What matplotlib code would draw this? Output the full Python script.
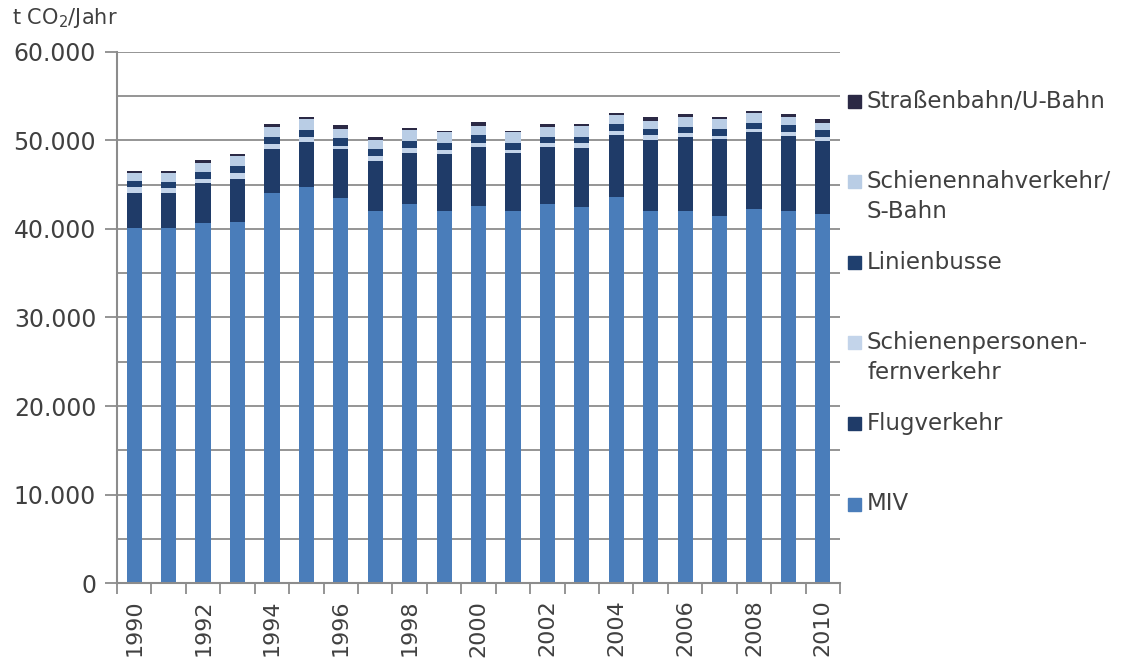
import matplotlib.pyplot as plt
import matplotlib.patches as mpatches
from matplotlib.ticker import FuncFormatter, MultipleLocator, FixedLocator
import numpy as np

plt.rcParams['font.family'] = ['DejaVu Sans']

YEARS = list(range(1990, 2011))

# t CO2 per year, per transport mode (bottom to top of the stack)
MIV = [40100, 40100, 40640, 40830, 44030, 44780, 43540, 42070, 42790, 42070, 42600,
       42070, 42790, 42450, 43650, 42070, 42070, 41500, 42260, 42070, 41690]
FLUG = [3950, 3950, 4520, 4860, 4970, 5080, 5460, 5610, 5760, 6360, 6700,
        6480, 6520, 6670, 6970, 7990, 8280, 8670, 8670, 8470, 8280]
FERN = [750, 550, 530, 600, 565, 565, 375, 565, 565, 490, 375,
        375, 375, 565, 490, 565, 450, 375, 375, 375, 450]
BUS = [600, 750, 720, 870, 870, 755, 870, 755, 870, 755, 940,
       830, 755, 755, 755, 680, 680, 755, 720, 830, 755]
SBAHN = [900, 1000, 1090, 1090, 1130, 1210, 1090, 1050, 1210, 1240, 1050,
         1170, 1050, 1240, 1020, 940, 1130, 1130, 1130, 870, 830]
TRAM = [300, 250, 250, 250, 300, 230, 410, 375, 200, 200, 375,
        200, 375, 200, 260, 375, 340, 190, 190, 340, 375]

SERIES = [MIV, FLUG, FERN, BUS, SBAHN, TRAM]
COLORS = ['#4a7dba', '#1f3b68', '#c3d4ea', '#1f3f6e', '#b9cde5', '#2b2945']
LABELS = [['MIV'], ['Flugverkehr'], ['Schienenpersonen-', 'fernverkehr'],
          ['Linienbusse'], ['Schienennahverkehr/', 'S-Bahn'], ['Straßenbahn/U-Bahn']]

TXT = '#404040'
GRID = '#8c8c8c'

fig = plt.figure(figsize=(11.37, 6.62), dpi=100)
ax = fig.add_axes([0.1029, 0.1193, 0.6359, 0.8022])

x = np.arange(len(YEARS))
bottom = np.zeros(len(YEARS))
for vals, col in zip(SERIES, COLORS):
    ax.bar(x, vals, 0.44, bottom=bottom, color=col, zorder=3)
    bottom += np.array(vals)

ax.set_xlim(-0.5, len(YEARS) - 0.5)
ax.set_ylim(0, 60000)

ax.yaxis.set_major_locator(MultipleLocator(10000))
ax.yaxis.set_minor_locator(MultipleLocator(5000))
ax.yaxis.set_major_formatter(FuncFormatter(lambda v, p: f'{int(v):,}'.replace(',', '.')))
ax.yaxis.grid(True, which='both', color=GRID, linewidth=1.3, zorder=0)
ax.tick_params(axis='y', which='major', length=9, width=1.3, color=GRID,
               labelsize=17, labelcolor=TXT, pad=6)
ax.tick_params(axis='y', which='minor', length=0)

ax.xaxis.set_major_locator(FixedLocator(x[::2]))
ax.set_xticklabels([str(y) for y in YEARS[::2]], rotation=90)
ax.xaxis.set_minor_locator(FixedLocator(np.arange(-0.5, len(YEARS), 1.0)))
ax.tick_params(axis='x', which='major', length=0, labelsize=16, labelcolor=TXT, pad=12)
ax.tick_params(axis='x', which='minor', length=8, width=1.3, color=GRID)

for s in ['top', 'right']:
    ax.spines[s].set_visible(False)
for s in ['left', 'bottom']:
    ax.spines[s].set_color(GRID)
    ax.spines[s].set_linewidth(1.5)
    ax.spines[s].set_zorder(4)

fig.text(12 / 1137, 1 - 18 / 662, r't CO$_2$/Jahr', fontsize=15, color=TXT,
         ha='left', va='center')

# legend, top entry first
W, H = 1137, 662
for i, (col, lines) in enumerate(zip(COLORS[::-1], LABELS[::-1])):
    yc = 101 + i * 80.6
    fig.patches.append(mpatches.Rectangle((848 / W, 1 - (yc + 6.5) / H), 13 / W, 13 / H,
                                          color=col, transform=fig.transFigure))
    for j, line in enumerate(lines):
        fig.text(867 / W, 1 - (yc + j * 30) / H, line, fontsize=16.5, color=TXT,
                 ha='left', va='center')

plt.savefig('out.png', dpi=100)
